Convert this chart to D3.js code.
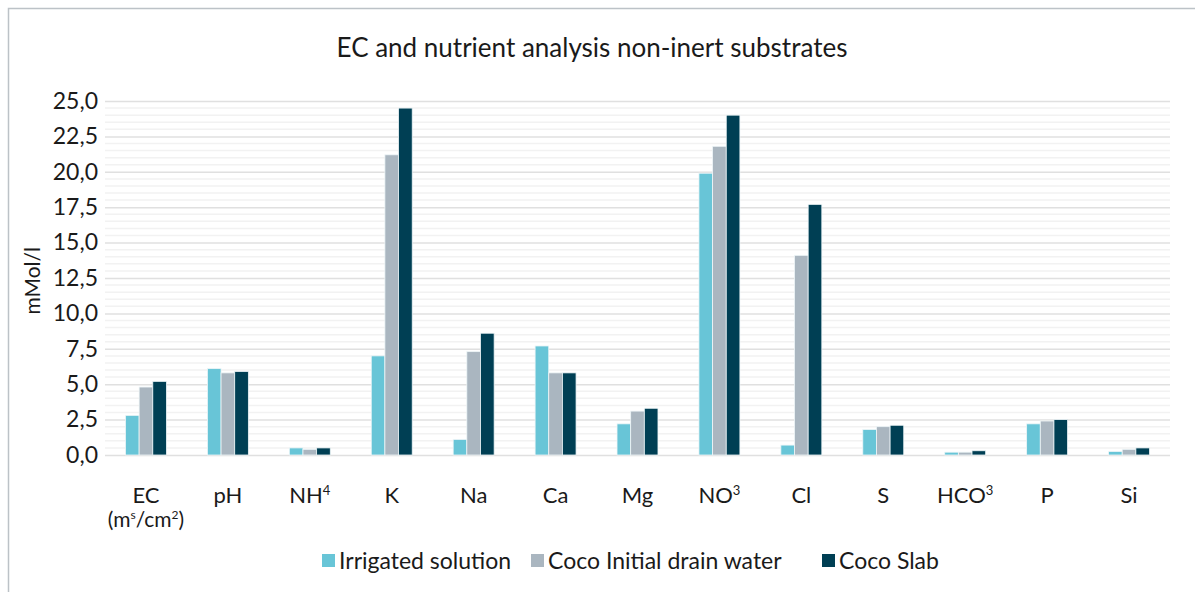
<!DOCTYPE html>
<html>
<head>
<meta charset="utf-8">
<script src="https://cdn.jsdelivr.net/npm/d3@7"></script>
<style>
  body { margin: 0; background: #fff; }
  svg text { font-family: Lato, "Noto Sans", sans-serif; fill: #1a1a1a; }
</style>
</head>
<body>
<svg id="chart" width="1195" height="592"></svg>
<script>
// categories, with superscript parts kept apart
const categories = ["EC", "pH", "NH4", "K", "Na", "Ca", "Mg", "NO3", "Cl", "S", "HCO3", "P", "Si"];
const labelBase = ["EC", "pH", "NH", "K", "Na", "Ca", "Mg", "NO", "Cl", "S", "HCO", "P", "Si"];
const labelSup = ["", "", "4", "", "", "", "", "3", "", "", "3", "", ""];

const seriesNames = ["Irrigated solution", "Coco Initial drain water", "Coco Slab"];
const seriesColors = ["#68c5d7", "#aab6c0", "#003f54"];

const irrigated = [2.8, 6.1, 0.5, 7.0, 1.1, 7.7, 2.2, 19.9, 0.7, 1.8, 0.2, 2.2, 0.25];
const cocoInitial = [4.8, 5.8, 0.4, 21.2, 7.3, 5.8, 3.1, 21.8, 14.1, 2.0, 0.2, 2.4, 0.4];
const cocoSlab = [5.2, 5.9, 0.5, 24.5, 8.6, 5.8, 3.3, 24.0, 17.7, 2.1, 0.3, 2.5, 0.5];

const yTicks = [0, 2.5, 5, 7.5, 10, 12.5, 15, 17.5, 20, 22.5, 25];

const series = [irrigated, cocoInitial, cocoSlab];

const svg = d3.select("#chart");
const margin = { left: 105, right: 25, top: 101, bottom: 137 };
const width = 1195, height = 592;

// outer frame (left and top only visible)
svg.append("path")
  .attr("d", "M8.5,592 L8.5,8.5 L1195,8.5")
  .attr("fill", "none")
  .attr("stroke", "#bcc2c7")
  .attr("stroke-width", 1.5);

svg.append("text")
  .attr("x", 592).attr("y", 57)
  .attr("text-anchor", "middle")
  .attr("font-size", 26)
  .text("EC and nutrient analysis non-inert substrates");

const x = d3.scaleBand()
  .domain(categories)
  .range([margin.left, width - margin.right]);

const xInner = d3.scaleBand()
  .domain(d3.range(series.length))
  .range([0, x.bandwidth() * 0.5]);

const y = d3.scaleLinear()
  .domain([0, 25])
  .range([height - margin.bottom, margin.top]);

// minor gridlines
const minor = d3.range(0, 25.01, 0.5).filter(v => Math.abs(v / 2.5 - Math.round(v / 2.5)) > 1e-6);
svg.append("g").selectAll("line")
  .data(minor)
  .join("line")
  .attr("x1", margin.left).attr("x2", width - margin.right)
  .attr("y1", d => y(d)).attr("y2", d => y(d))
  .attr("stroke", "#f2f2f2")
  .attr("stroke-width", 1.5);

// major gridlines + labels
const yAxis = svg.append("g")
  .attr("transform", `translate(${margin.left},0)`)
  .call(d3.axisLeft(y).tickValues(yTicks)
    .tickSize(-(width - margin.left - margin.right))
    .tickPadding(7)
    .tickFormat(d => d3.format(".1f")(d).replace(".", ",")));
yAxis.select(".domain").remove();
yAxis.selectAll(".tick line").attr("stroke", "#e0e0e0").attr("stroke-width", 1.5);
yAxis.selectAll(".tick text").attr("font-size", 23).attr("fill", "#1a1a1a")
  .style("font-family", "Lato, 'Noto Sans', sans-serif");

svg.append("text")
  .attr("transform", `translate(40,${y(12.3)}) rotate(-90)`)
  .attr("text-anchor", "middle")
  .attr("font-size", 21)
  .text("mMol/l");

// bars
const groups = svg.append("g").selectAll("g")
  .data(categories)
  .join("g")
  .attr("transform", d => `translate(${x(d) + x.bandwidth() * 0.25},0)`);

groups.selectAll("rect")
  .data((d, i) => series.map((s, k) => ({ k, v: s[i] })))
  .join("rect")
  .attr("x", d => xInner(d.k))
  .attr("width", xInner.bandwidth())
  .attr("y", d => y(d.v))
  .attr("height", d => y(0) - y(d.v))
  .attr("fill", d => seriesColors[d.k])
  .attr("stroke", "#eef6f8")
  .attr("stroke-width", 0.8);

// x labels
const xl = svg.append("g").selectAll("text")
  .data(categories)
  .join("text")
  .attr("x", d => x(d) + x.bandwidth() / 2)
  .attr("y", 503)
  .attr("text-anchor", "middle")
  .attr("font-size", 22);
xl.append("tspan").text((d, i) => labelBase[i]);
xl.append("tspan").attr("font-size", 13).attr("dy", -8).text((d, i) => labelSup[i]);

const ecSub = svg.append("text")
  .attr("x", x("EC") + x.bandwidth() / 2)
  .attr("y", 527)
  .attr("text-anchor", "middle")
  .attr("font-size", 21);
ecSub.append("tspan").text("(m");
ecSub.append("tspan").attr("font-size", 12).attr("dy", -8).text("s");
ecSub.append("tspan").attr("dy", 8).text("/cm");
ecSub.append("tspan").attr("font-size", 12).attr("dy", -8).text("2");
ecSub.append("tspan").attr("dy", 8).text(")");

// legend
const legendX = [322, 531, 822];
const legend = svg.append("g").selectAll("g")
  .data(seriesNames)
  .join("g")
  .attr("transform", (d, i) => `translate(${legendX[i]},561)`);
legend.append("rect")
  .attr("x", 0).attr("y", -7)
  .attr("width", 13).attr("height", 13)
  .attr("fill", (d, i) => seriesColors[i]);
legend.append("text")
  .attr("x", 17).attr("y", 8)
  .attr("font-size", 23)
  .text(d => d);
</script>
</body>
</html>
